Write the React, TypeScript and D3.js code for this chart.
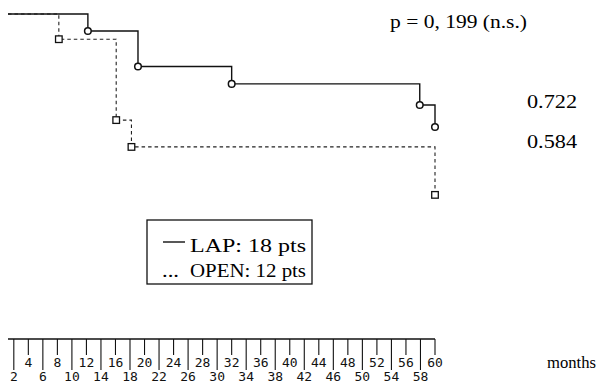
import React from "react";
import * as d3 from "d3";

const lapMonths = [1.2, 12.2, 19.1, 32.0, 57.9, 60];
const lapSurvival = [1, 0.958, 0.871, 0.828, 0.776, 0.722];
const openMonths = [1.2, 8.2, 16.1, 18.2, 60];
const openSurvival = [1, 0.938, 0.739, 0.673, 0.555];
const tickValues = d3.range(2, 61, 2);
const pText = "p = 0, 199 (n.s.)";
const endLabels = ["0.722", "0.584"];
const legendLabels = ["LAP: 18 pts", "OPEN: 12 pts"];
const axisTitle = "months";

const W = 597;
const H = 383;
const serif = "'Liberation Serif', 'Times New Roman', serif";
const mono = "'DejaVu Sans Mono', monospace";

export default function App() {
  const x = d3.scaleLinear().domain([1.2, 60]).range([8, 435]);
  const y = d3.scaleLinear().domain([0.722, 1]).range([127, 14]);
  const line = d3
    .line<[number, number]>()
    .x((d) => x(d[0]))
    .y((d) => y(d[1]))
    .curve(d3.curveStepAfter);
  const lap = lapMonths.map((m, i) => [m, lapSurvival[i]] as [number, number]);
  const open = openMonths.map((m, i) => [m, openSurvival[i]] as [number, number]);
  const axisY = 339;
  const [x0, x1] = x.range();

  return (
    <svg
      width={W}
      height={H}
      style={{ position: "absolute", left: 0, top: 0, background: "#fff" }}
    >
      <path d={line(open) || ""} fill="none" stroke="#222" strokeWidth={1.1} strokeDasharray="3.5,3" />
      <path d={line(lap) || ""} fill="none" stroke="#111" strokeWidth={1.4} />
      {lap.slice(1).map((d, i) => (
        <circle key={"c" + i} cx={x(d[0])} cy={y(d[1])} r={3.3} fill="#fff" stroke="#111" strokeWidth={1.5} />
      ))}
      {open.slice(1).map((d, i) => (
        <rect key={"s" + i} x={x(d[0]) - 3.3} y={y(d[1]) - 3.3} width={6.6} height={6.6} fill="#fff" stroke="#111" strokeWidth={1.3} />
      ))}

      <text x={390} y={28} fontFamily={serif} fontSize={18.5} textLength={137} lengthAdjust="spacingAndGlyphs" fill="#000">
        {pText}
      </text>
      <text x={527} y={108} fontFamily={serif} fontSize={18.5} textLength={50} lengthAdjust="spacingAndGlyphs" fill="#000">
        {endLabels[0]}
      </text>
      <text x={527} y={148} fontFamily={serif} fontSize={18.5} textLength={50} lengthAdjust="spacingAndGlyphs" fill="#000">
        {endLabels[1]}
      </text>

      <rect x={147} y={220} width={165} height={64} fill="none" stroke="#111" strokeWidth={1.3} />
      <line x1={163} x2={185} y1={242} y2={242} stroke="#111" strokeWidth={1.4} />
      <text x={190} y={252} fontFamily={serif} fontSize={18.5} textLength={116} lengthAdjust="spacingAndGlyphs" fill="#000">
        {legendLabels[0]}
      </text>
      <text x={162} y={277} fontFamily={serif} fontSize={18.5} textLength={17} lengthAdjust="spacingAndGlyphs" fill="#000">
        ...
      </text>
      <text x={190} y={277} fontFamily={serif} fontSize={18.5} textLength={116} lengthAdjust="spacingAndGlyphs" fill="#000">
        {legendLabels[1]}
      </text>

      <line x1={x0} x2={x1} y1={axisY} y2={axisY} stroke="#111" strokeWidth={1.6} />
      {tickValues.map((t) => {
        const long = t % 4 === 2;
        const tx = x(t);
        return (
          <g key={"t" + t}>
            <line x1={tx} x2={tx} y1={axisY} y2={long ? 370 : 355} stroke="#111" strokeWidth={1.1} />
            <text
              x={tx}
              y={long ? 381 : 367}
              textAnchor="middle"
              fontFamily={mono}
              fontSize={13}
              fill="#111"
            >
              {t}
            </text>
          </g>
        );
      })}
      <text x={547} y={368} fontFamily={serif} fontSize={17} textLength={49} lengthAdjust="spacingAndGlyphs" fill="#000">
        {axisTitle}
      </text>
    </svg>
  );
}
